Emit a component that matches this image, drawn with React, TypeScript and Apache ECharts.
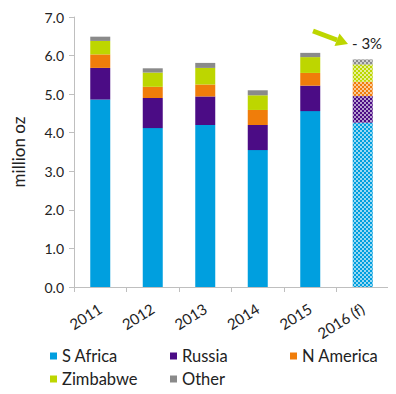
import React, { useEffect, useRef } from "react";
import * as echarts from "echarts";

const categories = ["2011", "2012", "2013", "2014", "2015", "2016 (f)"];
const sAfrica = [4.86, 4.12, 4.2, 3.55, 4.56, 4.26];
const russia = [0.82, 0.78, 0.74, 0.65, 0.66, 0.69];
const nAmerica = [0.35, 0.29, 0.31, 0.39, 0.33, 0.37];
const zimbabwe = [0.35, 0.37, 0.43, 0.38, 0.41, 0.45];
const other = [0.11, 0.11, 0.13, 0.13, 0.11, 0.13];
const yTicks = [0, 1, 2, 3, 4, 5, 6, 7];
const changeLabel = "- 3%";

const FONT = "Lato, 'Noto Sans', sans-serif";

const seriesDefs = [
  { name: "S Africa", data: sAfrica, color: "#009FDF" },
  { name: "Russia", data: russia, color: "#4B0C85" },
  { name: "N America", data: nAmerica, color: "#F07D0A" },
  { name: "Zimbabwe", data: zimbabwe, color: "#BDD600" },
  { name: "Other", data: other, color: "#8A8A8A" },
];

const forecastDecal = {
  symbol: "rect",
  symbolSize: 1,
  dashArrayX: [[2, 2], [0, 2, 2, 0]],
  dashArrayY: [2, 0],
  rotation: 0,
  color: "rgba(255,255,255,0.6)",
};

export default function App() {
  const ref = useRef<HTMLDivElement>(null);
  useEffect(() => {
    if (!ref.current) return;
    const chart = echarts.init(ref.current, null, { renderer: "svg" });
    const legendBase = {
      orient: "vertical",
      top: 347,
      icon: "rect",
      itemWidth: 7,
      itemHeight: 7,
      itemGap: 5,
      textStyle: { fontFamily: FONT, fontSize: 16.5, color: "#222", lineHeight: 18, padding: [0, 0, 0, 0] },
      padding: 0,
    };
    chart.setOption({
      animation: false,
      grid: { left: 74, right: 7, top: 17, bottom: 107 },
      legend: [
        { ...legendBase, left: 50, data: ["S Africa", "Zimbabwe"] },
        { ...legendBase, left: 170, data: ["Russia", "Other"] },
        { ...legendBase, left: 290, data: ["N America"] },
      ],
      xAxis: {
        type: "category",
        data: categories,
        axisLine: { lineStyle: { color: "#BFBFBF" } },
        axisTick: { show: true, length: 5, lineStyle: { color: "#BFBFBF" } },
        axisLabel: {
          rotate: 32,
          margin: 20,
          fontFamily: FONT,
          fontSize: 15,
          color: "#222",
          interval: 0,
        },
      },
      yAxis: {
        type: "value",
        min: 0,
        max: 7,
        interval: 1,
        name: "million oz",
        nameLocation: "middle",
        nameGap: 47,
        nameTextStyle: { fontFamily: FONT, fontSize: 17, color: "#222" },
        axisLine: { show: true, lineStyle: { color: "#BFBFBF" } },
        axisTick: { show: true, length: 5, lineStyle: { color: "#BFBFBF" } },
        splitLine: { show: false },
        axisLabel: {
          fontFamily: FONT,
          fontSize: 14,
          color: "#222",
          margin: 10,
          customValues: yTicks,
          formatter: (v: number) => v.toFixed(1),
        },
      },
      series: seriesDefs.map((s) => ({
        name: s.name,
        type: "bar",
        stack: "total",
        barWidth: 20,
        itemStyle: { color: s.color },
        data: s.data.map((v, i) =>
          i === categories.length - 1
            ? { value: v, itemStyle: { color: s.color, decal: forecastDecal } }
            : v
        ),
      })),
      graphic: [
        {
          type: "line",
          shape: { x1: 313, y1: 31, x2: 337, y2: 40 },
          style: { stroke: "#BDD600", lineWidth: 5 },
        },
        {
          type: "polygon",
          shape: { points: [[348, 44], [334.5, 46], [339.5, 33.5]] },
          style: { fill: "#BDD600" },
        },
        {
          type: "text",
          x: 352,
          y: 43,
          style: {
            text: changeLabel,
            fontFamily: FONT,
            fontSize: 15,
            fill: "#222",
            verticalAlign: "middle",
          },
        },
      ],
    });
    return () => chart.dispose();
  }, []);
  return <div ref={ref} style={{ width: 396, height: 394, margin: -8 }} />;
}
